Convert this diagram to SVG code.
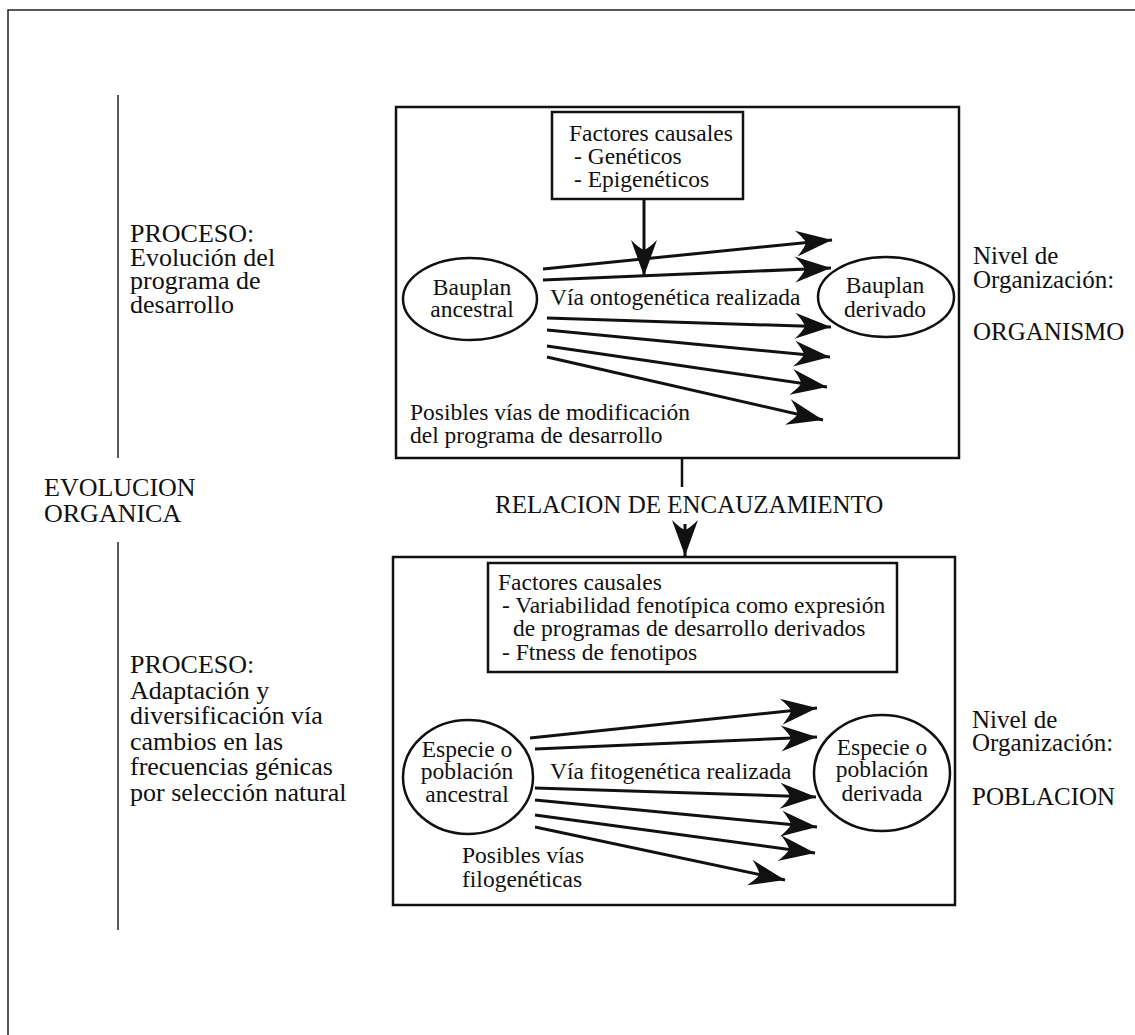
<svg xmlns="http://www.w3.org/2000/svg" width="1135" height="1035" viewBox="0 0 1135 1035">
<style>
text{font-family:"Liberation Serif","Times New Roman",Tinos,Times,"DejaVu Serif","Noto Serif",serif;fill:#111}
.big{font-size:26px}
.mid{font-size:25px}
.in{font-size:23.5px}
.box{fill:none;stroke:#111;stroke-width:2.5}
.frame{fill:none;stroke:#222;stroke-width:1.5}
.arr{stroke:#111;stroke-width:3;fill:none;marker-end:url(#ah)}
.ell{fill:none;stroke:#111;stroke-width:2.5}
</style>
<defs>
<marker id="ah" markerUnits="userSpaceOnUse" viewBox="-38 -14 40 28" refX="0" refY="0" markerWidth="40" markerHeight="28" orient="auto">
<path d="M0,0 L-36,-13 Q-28,-5 -26,0 Q-28,5 -36,13 Z" fill="#111"/>
</marker>
</defs>
<g id="frame">
<path class="frame" d="M8,1035 V10 H1135"/>
<line class="frame" x1="118" y1="95" x2="118" y2="458"/>
<line class="frame" x1="118" y1="542" x2="118" y2="930"/>
</g>
<g id="left-labels">
<text class="big" x="130" y="242">PROCESO:</text>
<text class="big" x="130" y="265.5">Evolución del</text>
<text class="big" x="130" y="289">programa de</text>
<text class="big" x="130" y="312.5">desarrollo</text>
<text class="big" x="44" y="496">EVOLUCION</text>
<text class="big" x="44" y="522">ORGANICA</text>
<text class="big" x="130" y="673">PROCESO:</text>
<text class="big" x="130" y="698.5">Adaptación y</text>
<text class="big" x="130" y="724">diversificación vía</text>
<text class="big" x="130" y="749.5">cambios en las</text>
<text class="big" x="130" y="775">frecuencias génicas</text>
<text class="big" x="130" y="801">por selección natural</text>
</g>
<g id="right-labels">
<text class="mid" x="973" y="264">Nivel de</text>
<text class="mid" x="973" y="288">Organización:</text>
<text class="mid" x="973" y="340">ORGANISMO</text>
<text class="mid" x="972" y="728">Nivel de</text>
<text class="mid" x="972" y="751">Organización:</text>
<text class="mid" x="972" y="805">POBLACION</text>
</g>
<g id="organismo-box">
<rect class="box" x="396" y="107" width="563" height="351"/>
<text class="in" x="410" y="420">Posibles vías de modificación</text>
<text class="in" x="410" y="443">del programa de desarrollo</text>
<text class="in" x="550" y="305">Vía ontogenética realizada</text>
</g>
<g id="factores-org">
<rect class="box" x="552" y="112" width="191" height="87"/>
<text class="in" x="569" y="141">Factores causales</text>
<text class="in" x="574" y="164">- Genéticos</text>
<text class="in" x="574" y="187">- Epigenéticos</text>
</g>
<g id="bauplan-ancestral">
<ellipse class="ell" cx="470" cy="299" rx="67" ry="41"/>
<text class="in" x="472" y="295" text-anchor="middle">Bauplan</text>
<text class="in" x="472" y="317" text-anchor="middle">ancestral</text>
</g>
<g id="bauplan-derivado">
<ellipse class="ell" cx="886" cy="297" rx="68" ry="40"/>
<text class="in" x="885" y="293" text-anchor="middle">Bauplan</text>
<text class="in" x="885" y="317" text-anchor="middle">derivado</text>
</g>
<g id="poblacion-box">
<rect class="box" x="393" y="557" width="562" height="348"/>
<text class="in" x="550" y="779">Vía fitogenética realizada</text>
<text class="in" x="462" y="863">Posibles vías</text>
<text class="in" x="462" y="887">filogenéticas</text>
</g>
<g id="factores-pob">
<rect class="box" x="488" y="563" width="409" height="109"/>
<text class="in" x="498" y="590">Factores causales</text>
<text class="in" x="502" y="613">- Variabilidad fenotípica como expresión</text>
<text class="in" x="513" y="636">de programas de desarrollo derivados</text>
<text class="in" x="502" y="660">- Ftness de fenotipos</text>
</g>
<g id="especie-ancestral">
<ellipse class="ell" cx="468" cy="777" rx="65" ry="57"/>
<text class="in" x="467" y="757" text-anchor="middle">Especie o</text>
<text class="in" x="467" y="779" text-anchor="middle">población</text>
<text class="in" x="467" y="802" text-anchor="middle">ancestral</text>
</g>
<g id="especie-derivada">
<ellipse class="ell" cx="882" cy="773" rx="68" ry="58"/>
<text class="in" x="882" y="755" text-anchor="middle">Especie o</text>
<text class="in" x="882" y="777" text-anchor="middle">población</text>
<text class="in" x="882" y="801" text-anchor="middle">derivada</text>
</g>
<g id="relacion">
<text class="mid" x="495" y="513">RELACION DE ENCAUZAMIENTO</text>
</g>
<g id="connectors">
<line class="arr" x1="644" y1="199" x2="644" y2="276"/>
<line class="arr" x1="543" y1="269" x2="832" y2="240"/>
<line class="arr" x1="543" y1="280" x2="831" y2="268"/>
<line class="arr" x1="547" y1="318" x2="831" y2="327"/>
<line class="arr" x1="547" y1="330" x2="830" y2="357"/>
<line class="arr" x1="547" y1="346" x2="827" y2="387"/>
<line class="arr" x1="547" y1="357" x2="823" y2="420"/>
<line x1="682" y1="458" x2="682" y2="487" stroke="#111" stroke-width="2.5"/>
<line class="arr" x1="685" y1="524" x2="685" y2="556" stroke-width="2"/>
<line class="arr" x1="530" y1="738" x2="817" y2="708"/>
<line class="arr" x1="535" y1="749" x2="817" y2="737"/>
<line class="arr" x1="535" y1="788" x2="816" y2="797"/>
<line class="arr" x1="535" y1="800" x2="817" y2="827"/>
<line class="arr" x1="535" y1="815" x2="815" y2="853"/>
<line class="arr" x1="535" y1="827" x2="785" y2="880"/>
</g>
</svg>
